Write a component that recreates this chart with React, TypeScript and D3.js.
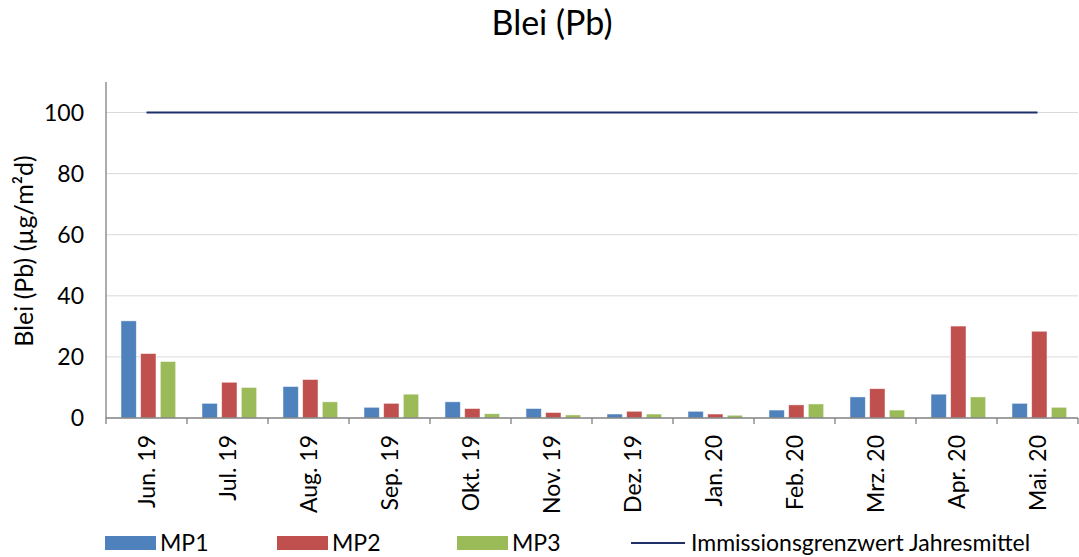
import React from "react";
import * as d3 from "d3";

const categories = ["Jun. 19", "Jul. 19", "Aug. 19", "Sep. 19", "Okt. 19", "Nov. 19", "Dez. 19", "Jan. 20", "Feb. 20", "Mrz. 20", "Apr. 20", "Mai. 20"];
const mp1 = [31.8, 4.8, 10.3, 3.5, 5.3, 3.1, 1.3, 2.2, 2.6, 6.9, 7.8, 4.8];
const mp2 = [21.1, 11.7, 12.6, 4.8, 3.1, 1.8, 2.2, 1.3, 4.3, 9.6, 30.1, 28.4];
const mp3 = [18.5, 10.0, 5.3, 7.8, 1.4, 1.0, 1.3, 0.9, 4.6, 2.6, 6.9, 3.5];
const limit = [100, 100, 100, 100, 100, 100, 100, 100, 100, 100, 100, 100];
const seriesNames = ["MP1", "MP2", "MP3"];
const lineName = "Immissionsgrenzwert Jahresmittel";
const yTicks = [0, 20, 40, 60, 80, 100];

const colors = ["#4f81bd", "#c0504d", "#9bbb59"];
const lineColor = "#1f2f6a";
const FONT = "Lato, 'Open Sans', sans-serif";

export default function App() {
  const W = 1079, H = 557;
  const left = 106, right = 1078, top = 82, bottom = 418;
  const x = d3.scaleBand<string>().domain(categories).range([left, right]).padding(0);
  const y = d3.scaleLinear().domain([0, 110]).range([bottom, top]);
  const bw = x.bandwidth();
  const inner = d3.scaleBand<string>().domain(seriesNames).range([bw * 0.185, bw * 0.86]).paddingInner(0.22).paddingOuter(0);
  const series = [mp1, mp2, mp3];
  const line = d3.line<number>().x((_, i) => (x(categories[i]) as number) + bw / 2).y((d) => y(d));
  const fs = 23;

  return (
    <svg width={W} height={H} style={{ position: "absolute", left: 0, top: 0, background: "#fff" }} fontFamily={FONT}>
      <rect x={0} y={0} width={W} height={H} fill="#fff" />
      <text x={552} y={35} textAnchor="middle" fontSize={34} fill="#000">Blei (Pb)</text>
      {yTicks.filter((t) => t > 0).map((t) => (
        <line key={t} x1={left} x2={right} y1={y(t)} y2={y(t)} stroke="#d9d9d9" strokeWidth={1} />
      ))}
      {series.map((vals, si) =>
        vals.map((v, i) => (
          <rect key={si + "-" + i}
            x={(x(categories[i]) as number) + (inner(seriesNames[si]) as number)}
            y={y(v)} width={inner.bandwidth()} height={y(0) - y(v)}
            fill={colors[si]} stroke="#ffffff" strokeOpacity={0.6} strokeWidth={0.8} />
        ))
      )}
      <path d={line(limit) || ""} fill="none" stroke={lineColor} strokeWidth={2} />
      <line x1={left} x2={left} y1={top} y2={bottom} stroke="#808080" strokeWidth={1.3} />
      <line x1={left} x2={right} y1={bottom} y2={bottom} stroke="#808080" strokeWidth={1.3} />
      {categories.map((c, i) => (
        <line key={"t" + i} x1={(x(c) as number)} x2={(x(c) as number)} y1={bottom} y2={bottom + 6} stroke="#808080" strokeWidth={1.3} />
      ))}
      <line x1={right} x2={right} y1={bottom} y2={bottom + 6} stroke="#808080" strokeWidth={1.3} />
      {yTicks.map((t) => (
        <text key={t} x={84} y={y(t)} dy="0.35em" textAnchor="end" fontSize={fs} fill="#000">{t}</text>
      ))}
      <text transform={`translate(33, 251) rotate(-90)`} textAnchor="middle" fontSize={25} fill="#000">Blei (Pb) (µg/m²d)</text>
      {categories.map((c) => (
        <text key={c} transform={`translate(${(x(c) as number) + bw / 2}, 435) rotate(-90)`} dy="0.35em" textAnchor="end" fontSize={fs} fill="#000">{c}</text>
      ))}
      {seriesNames.map((n, i) => {
        const lx = [105, 277, 457][i];
        return (
          <g key={n}>
            <rect x={lx} y={536} width={51} height={14} fill={colors[i]} />
            <text x={lx + 55} y={551} fontSize={fs} fill="#000">{n}</text>
          </g>
        );
      })}
      <line x1={631} x2={685} y1={543} y2={543} stroke={lineColor} strokeWidth={2} />
      <text x={691} y={551} fontSize={fs} fill="#000">{lineName}</text>
    </svg>
  );
}
